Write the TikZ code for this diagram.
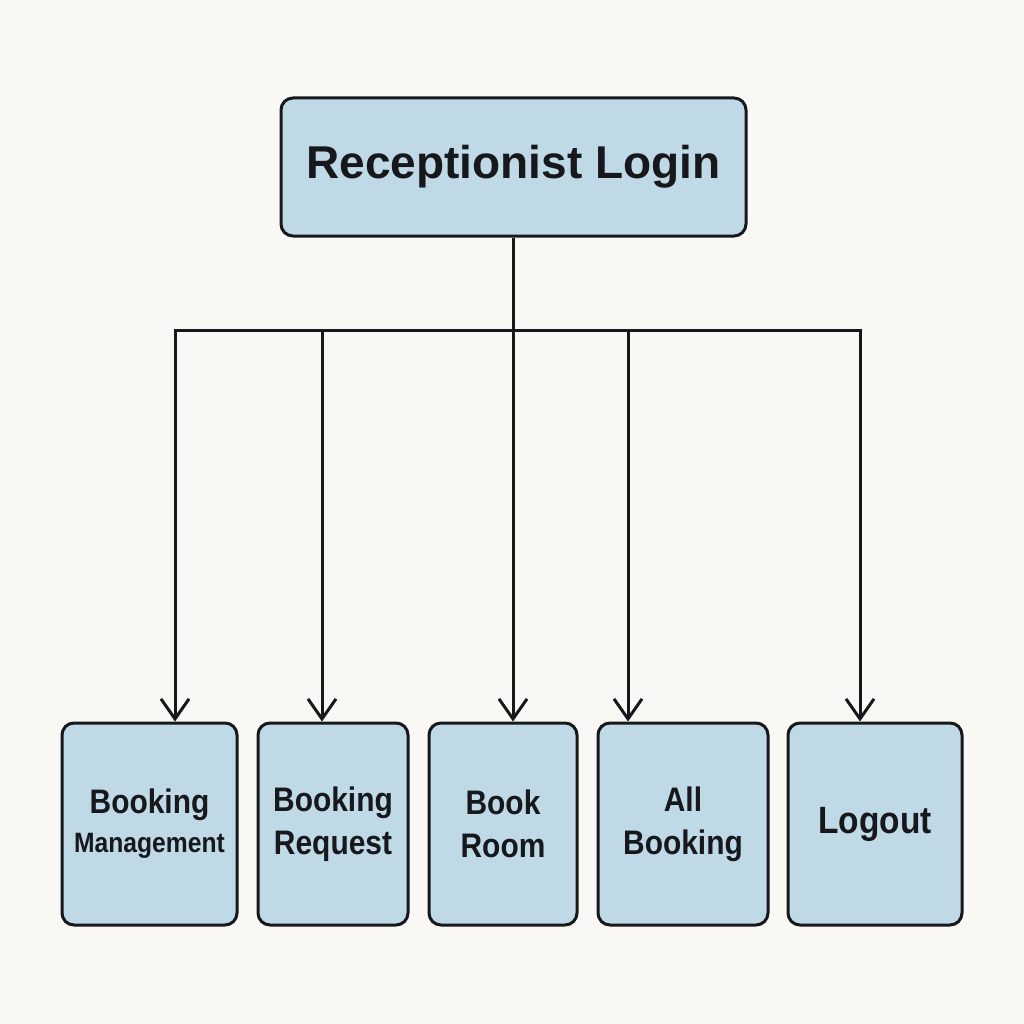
\documentclass[tikz,border=0pt]{standalone}
\usepackage{fontspec}
\setmainfont{Liberation Sans}
\newfontfamily\boxfont{Liberation Sans}[FakeStretch=0.88]
\usetikzlibrary{arrows.meta}
\definecolor{bg}{RGB}{250,248,245}
\definecolor{boxfill}{RGB}{191,217,231}
\definecolor{ink}{RGB}{22,24,28}
\tikzset{
  box/.style={draw=ink, fill=boxfill, line width=3pt, rounded corners=12pt, inner sep=0pt, align=center, font=\boxfont\bfseries\fontsize{34}{43}\selectfont, text=ink},
  conn/.style={draw=ink, line width=3pt},
  arr/.style={conn, -{Straight Barb[length=20pt,width=28pt,line width=3pt]}}
}
\begin{document}
\begin{tikzpicture}[x=1pt,y=-1pt]
\fill[bg] (0,0) rectangle (1024,1024);
\useasboundingbox (0,0) rectangle (1024,1024);
\node[box, minimum width=465pt, minimum height=138pt, font=\bfseries\fontsize{46}{50}\selectfont] (top) at (513.5,167) {Receptionist Login};
\node[box, minimum width=175pt, minimum height=202pt] (b1) at (149.5,824) {Booking\\[-4pt]{\fontsize{28}{30}\selectfont Management}};
\node[box, minimum width=150pt, minimum height=202pt] (b2) at (333,824) {Booking\\Request};
\node[box, minimum width=148pt, minimum height=202pt] (b3) at (503,824) {Book\\Room};
\node[box, minimum width=170pt, minimum height=202pt] (b4) at (683,824) {All\\Booking};
\node[box, minimum width=174pt, minimum height=202pt, font=\boxfont\bfseries\fontsize{38}{40}\selectfont] (b5) at (875,824) {Logout};
\coordinate (jc) at (513,330);
\coordinate (j1) at (175,330);
\coordinate (j2) at (322,330);
\coordinate (j4) at (628,330);
\coordinate (j5) at (860,330);
\draw[conn] (top.south -| jc) -- (jc);
\draw[conn, line cap=rect] (j1) -- (j5);
\draw[arr] (j1) -- (j1 |- b1.north);
\draw[arr] (j2) -- (j2 |- b2.north);
\draw[arr] (jc) -- (jc |- b3.north);
\draw[arr] (j4) -- (j4 |- b4.north);
\draw[arr] (j5) -- (j5 |- b5.north);
\end{tikzpicture}
\end{document}
